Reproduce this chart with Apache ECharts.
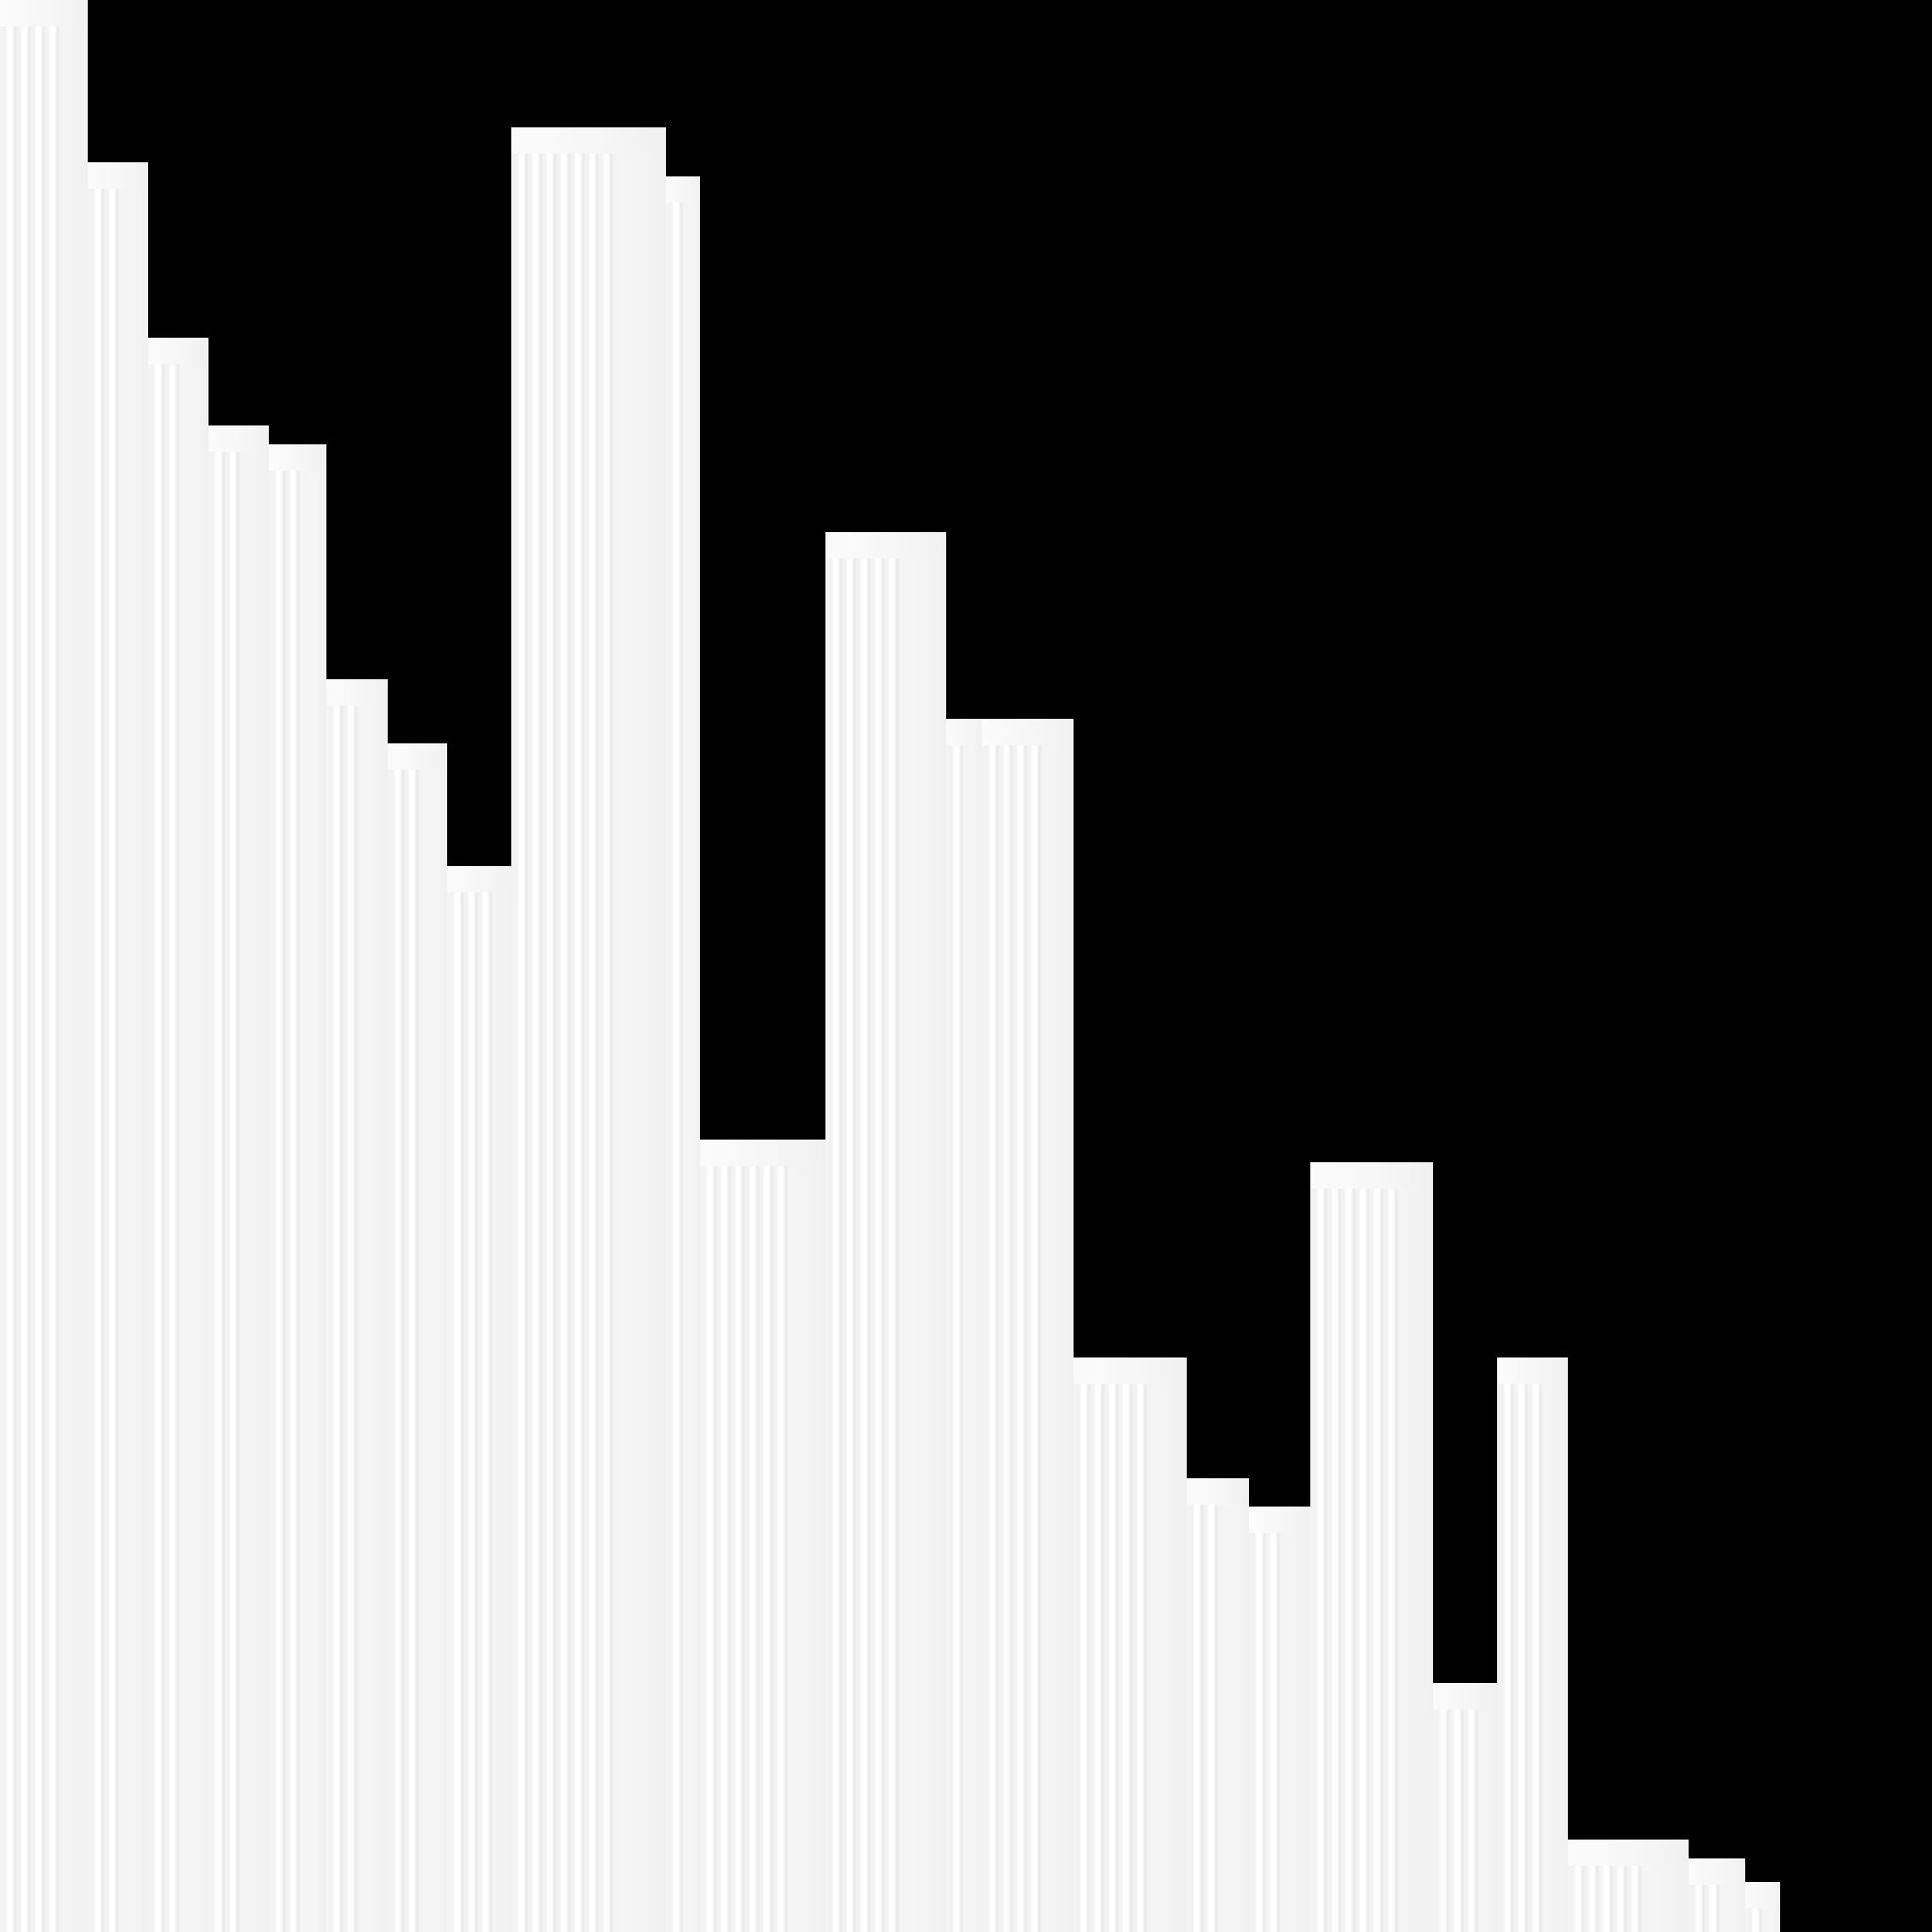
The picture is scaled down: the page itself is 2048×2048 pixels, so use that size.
<!DOCTYPE html>
<html>
<head>
<meta charset="utf-8">
<style>
  html, body { margin: 0; padding: 0; background: #000; }
  #chart { width: 2048px; height: 2048px; }
</style>
<script src="https://cdn.jsdelivr.net/npm/echarts@6/dist/echarts.min.js"></script>
</head>
<body>
<div id="chart"></div>
<script>
// Skyline blocks: left edge, right edge, height
const barStart  = [0,    93,   157,  221,  285,  346,  411,  474,  542,  706,  742,  875,  1003, 1041, 1138, 1258, 1324, 1389, 1519, 1587, 1662, 1790, 1850];
const barEnd    = [93,   157,  221,  285,  346,  411,  474,  542,  706,  742,  875,  1003, 1041, 1138, 1258, 1324, 1389, 1519, 1587, 1662, 1790, 1850, 1887];
const barHeight = [2048, 1876, 1690, 1597, 1577, 1328, 1260, 1130, 1913, 1861, 840,  1484, 1286, 1286, 609,  481,  451,  816,  264,  609,  98,   78,   53];

const data = barStart.map((s, i) => [s, barEnd[i], barHeight[i]]);

const chart = echarts.init(document.getElementById('chart'), null, { renderer: 'canvas' });

function stripeGradient(w) {
  const stops = [{ offset: 0, color: '#f4f4f4' }];
  const limit = w * 0.72;
  for (let p = 6; p + 12 < limit; p += 15) {
    stops.push({ offset: p / w, color: '#f2f2f2' });
    stops.push({ offset: (p + 3) / w, color: '#ffffff' });
    stops.push({ offset: (p + 7) / w, color: '#fdfdfd' });
    stops.push({ offset: (p + 10) / w, color: '#e9e9e9' });
    stops.push({ offset: (p + 13) / w, color: '#f4f4f4' });
  }
  stops.push({ offset: Math.min(0.99, limit / w + 0.01), color: '#f5f5f5' });
  stops.push({ offset: 1, color: '#f0f0f0' });
  return new echarts.graphic.LinearGradient(0, 0, 1, 0, stops);
}

function renderItem(params, api) {
  const x0 = api.value(0), x1 = api.value(1), h = api.value(2);
  const p0 = api.coord([x0, h]);
  const p1 = api.coord([x1, 0]);
  const left = p0[0], top = p0[1], w = p1[0] - p0[0], ht = p1[1] - p0[1];
  const cap = Math.min(28, ht);
  return {
    type: 'group',
    children: [{
      type: 'rect',
      shape: { x: left, y: top + cap, width: w, height: ht - cap },
      style: { fill: stripeGradient(w) }
    }, {
      type: 'rect',
      shape: { x: left, y: top, width: w, height: cap },
      style: {
        fill: new echarts.graphic.LinearGradient(0, 0, 1, 0, [
          { offset: 0, color: '#fbfbfb' },
          { offset: 0.6, color: '#f6f6f6' },
          { offset: 1, color: '#f0f0f0' }
        ])
      }
    }]
  };
}

chart.setOption({
  backgroundColor: '#000000',
  animation: false,
  grid: { left: 0, right: 0, top: 0, bottom: 0 },
  xAxis: { type: 'value', min: 0, max: 2048, show: false },
  yAxis: { type: 'value', min: 0, max: 2048, show: false },
  series: [{
    type: 'custom',
    renderItem: renderItem,
    encode: { x: [0, 1], y: 2 },
    clip: true,
    data: data
  }]
});
</script>
</body>
</html>
